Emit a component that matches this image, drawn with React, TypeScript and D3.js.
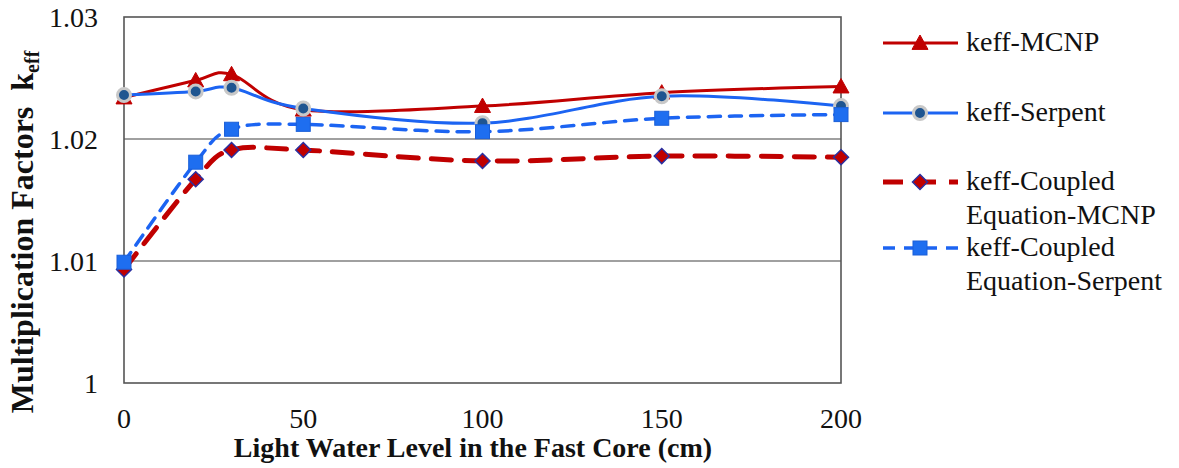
import React from "react";
import * as d3 from "d3";

const xValues = [0, 20, 30, 50, 100, 150, 200];
const keffMcnp = [1.0234, 1.0248, 1.0253, 1.0224, 1.0227, 1.0238, 1.0243];
const keffSerpent = [1.0236, 1.0239, 1.0242, 1.0225, 1.0213, 1.0235, 1.0227];
const coupledMcnp = [1.0093, 1.0167, 1.0191, 1.0191, 1.0182, 1.0186, 1.0185];
const coupledSerpent = [1.0099, 1.0181, 1.0208, 1.0212, 1.0206, 1.0217, 1.022];
const xTicks = [0, 50, 100, 150, 200];
const yTicks = [1, 1.01, 1.02, 1.03];
const yTickLabels = ["1", "1.01", "1.02", "1.03"];

const W = 1179;
const H = 468;
const L = 124, R = 841, T = 17, B = 383;

const RED = "#C00000";
const BLUE = "#1C64F2";
const FONT = "'Liberation Serif', 'Times New Roman', Times, serif";
const tStyle = { fontFamily: FONT };

type Kind = "tri" | "circ" | "dia" | "sq";

function Marker({ kind, x, y }: { kind: Kind; x: number; y: number }) {
  if (kind === "tri") {
    const s = 8;
    return <path d={`M${x},${y - s}L${x + s},${y + s * 0.8}L${x - s},${y + s * 0.8}Z`} fill={RED} stroke={RED} strokeWidth={1} />;
  }
  if (kind === "circ") {
    return <circle cx={x} cy={y} r={6.5} fill="#1F5590" stroke="#C8C8C8" strokeWidth={3} />;
  }
  if (kind === "dia") {
    const s = 7.5;
    return <path d={`M${x},${y - s}L${x + s},${y}L${x},${y + s}L${x - s},${y}Z`} fill={RED} stroke="#2A2FA0" strokeWidth={1.5} />;
  }
  return <rect x={x - 7} y={y - 7} width={14} height={14} fill="#1E6EF0" stroke="#1A5FD8" strokeWidth={1} />;
}

export default function App() {
  const x = d3.scaleLinear().domain([0, 200]).range([L, R]);
  const y = d3.scaleLinear().domain([1, 1.03]).range([B, T]);
  const line = d3
    .line<number>()
    .x((_, i) => x(xValues[i]))
    .y((d) => y(d))
    .curve(d3.curveCardinal.tension(0));

  const series: { vals: number[]; color: string; width: number; dash?: string; kind: Kind }[] = [
    { vals: keffMcnp, color: RED, width: 3, kind: "tri" },
    { vals: keffSerpent, color: BLUE, width: 3, kind: "circ" },
    { vals: coupledMcnp, color: RED, width: 5, dash: "20 13", kind: "dia" },
    { vals: coupledSerpent, color: BLUE, width: 3.5, dash: "12 9", kind: "sq" },
  ];

  const legend = [
    { lines: ["keff-MCNP"], ly: 43, s: 0 },
    { lines: ["keff-Serpent"], ly: 113, s: 1 },
    { lines: ["keff-Coupled", "Equation-MCNP"], ly: 182, s: 2 },
    { lines: ["keff-Coupled", "Equation-Serpent"], ly: 248, s: 3 },
  ];

  return (
    <svg width={W} height={H} style={{ position: "absolute", left: 0, top: 0, background: "#fff" }}>
      <rect x={0} y={0} width={W} height={H} fill="#fff" />
      {yTicks.slice(1, 3).map((t) => (
        <line key={t} x1={L} x2={R} y1={y(t)} y2={y(t)} stroke="#808080" strokeWidth={1.5} />
      ))}
      <rect x={L} y={T} width={R - L} height={B - T} fill="none" stroke="#555" strokeWidth={1.6} />
      {yTicks.map((t, i) => (
        <text key={t} x={98} y={y(t)} dy="0.35em" textAnchor="end" fontSize={28} fill="#111" style={tStyle}>
          {yTickLabels[i]}
        </text>
      ))}
      {xTicks.map((t) => (
        <text key={t} x={x(t)} y={428} textAnchor="middle" fontSize={28} fill="#111" style={tStyle}>
          {t}
        </text>
      ))}
      <text x={473} y={457} textAnchor="middle" fontSize={28} fontWeight="bold" fill="#111" style={tStyle}>
        Light Water Level in the Fast Core (cm)
      </text>
      <text transform="translate(33,232) rotate(-90)" textAnchor="middle" fontSize={32} fontWeight="bold" fill="#111" style={tStyle}>
        Multiplication Factors{"\u00a0\u00a0"}k<tspan fontSize={20} dy={6}>eff</tspan>
      </text>
      {series.map((s, si) => (
        <g key={si}>
          <path d={line(s.vals) || ""} fill="none" stroke={s.color} strokeWidth={s.width} strokeDasharray={s.dash} strokeLinecap={s.dash ? "round" : "butt"} />
        </g>
      ))}
      {series.map((s, si) => (
        <g key={"m" + si}>
          {s.vals.map((v, i) => (
            <Marker key={i} kind={s.kind} x={x(xValues[i])} y={y(v)} />
          ))}
        </g>
      ))}
      {legend.map((e, i) => {
        const s = series[e.s];
        return (
          <g key={i}>
            <line x1={883} x2={958} y1={e.ly} y2={e.ly} stroke={s.color} strokeWidth={s.width} strokeDasharray={s.dash} />
            <Marker kind={s.kind} x={920} y={e.ly} />
            {e.lines.map((t, j) => (
              <text key={j} x={966} y={e.ly + 8 + j * 34} fontSize={28} fill="#111" style={tStyle}>
                {t}
              </text>
            ))}
          </g>
        );
      })}
    </svg>
  );
}
